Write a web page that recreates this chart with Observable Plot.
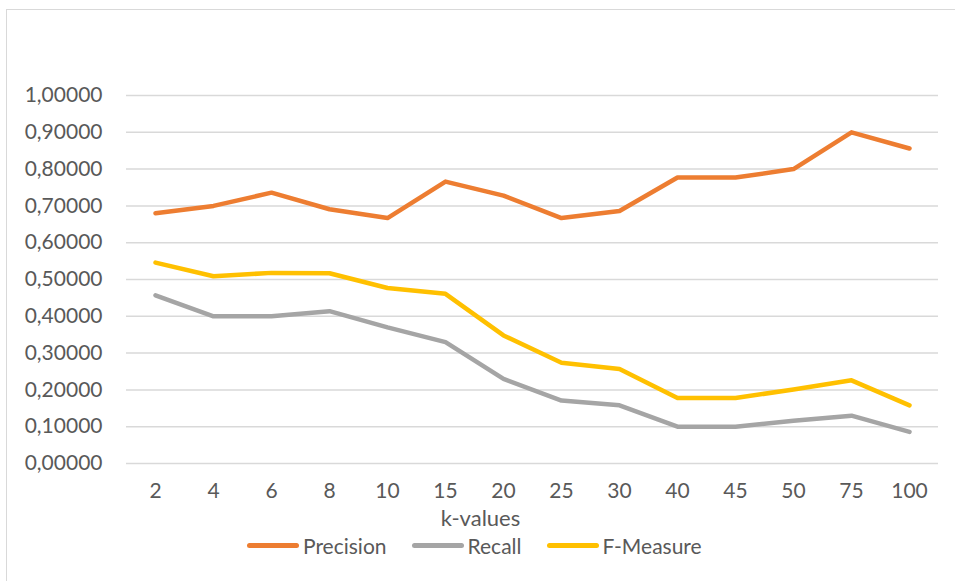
<!DOCTYPE html>
<html>
<head>
<meta charset="utf-8">
<script src="https://cdn.jsdelivr.net/npm/d3@7"></script>
<script src="https://cdn.jsdelivr.net/npm/@observablehq/plot@0.6"></script>
<style>
  html, body { margin: 0; padding: 0; background: #fff; }
  body { width: 955px; height: 581px; position: relative; overflow: hidden; font-family: Lato, "Noto Sans", sans-serif; }
  #frame { position: absolute; left: 6px; top: 9px; width: 960px; height: 600px; border: 1.5px solid #d9d9d9; box-sizing: border-box; }
  #chart { position: absolute; left: 0; top: 0; }
  #legend { position: absolute; left: 247px; top: 533px; display: flex; align-items: center; gap: 25px; font-size: 21px; color: #595959; }
  .item { display: flex; align-items: center; gap: 4px; }
  .swatch { width: 52px; height: 5px; border-radius: 3px; }
</style>
</head>
<body>
<div id="frame"></div>
<div id="chart"></div>
<div id="legend"></div>
<script>
// k values on the category axis
const kValues = ["2", "4", "6", "8", "10", "15", "20", "25", "30", "40", "45", "50", "75", "100"];

// scores per k
const precision = [0.680, 0.700, 0.736, 0.691, 0.667, 0.766, 0.728, 0.667, 0.686, 0.777, 0.777, 0.800, 0.900, 0.856];
const recall    = [0.457, 0.400, 0.400, 0.414, 0.370, 0.330, 0.230, 0.171, 0.158, 0.100, 0.100, 0.116, 0.130, 0.086];
const fMeasure  = [0.546, 0.509, 0.518, 0.517, 0.477, 0.461, 0.348, 0.274, 0.257, 0.178, 0.178, 0.201, 0.226, 0.158];

const yTicks = [0, 0.1, 0.2, 0.3, 0.4, 0.5, 0.6, 0.7, 0.8, 0.9, 1.0];

const seriesNames = ["Precision", "Recall", "F-Measure"];
const seriesColors = ["#ED7D31", "#A5A5A5", "#FFC000"];
const seriesValues = [precision, recall, fMeasure];

const rows = seriesNames.flatMap((name, i) =>
  kValues.map((k, j) => ({series: name, k, value: seriesValues[i][j]}))
);

const fmt = d => d.toFixed(5).replace(".", ",");

const chart = Plot.plot({
  width: 955,
  height: 530,
  marginLeft: 126,
  marginRight: 17,
  marginTop: 95,
  marginBottom: 67,
  style: {fontFamily: "Lato, 'Noto Sans', sans-serif", fontSize: "21px", color: "#595959", background: "transparent"},
  x: {type: "point", domain: kValues, padding: 0.5, label: null},
  y: {domain: [0, 1], label: null},
  color: {domain: seriesNames, range: seriesColors},
  marks: [
    Plot.gridY(yTicks, {stroke: "#d9d9d9", strokeOpacity: 1, strokeWidth: 1.5}),
    Plot.axisY(yTicks, {tickSize: 0, tickPadding: 24, tickFormat: fmt, fill: "#595959", fontSize: 21}),
    Plot.axisX({tickSize: 0, tickPadding: 20, fill: "#595959", fontSize: 21, label: null}),
    Plot.text(["k-values"], {frameAnchor: "bottom", lineAnchor: "middle", dx: -52, dy: 55, fill: "#595959", fontSize: 22}),
    Plot.line(rows, {
      x: "k", y: "value", z: "series", stroke: "series",
      strokeWidth: 4.5, strokeLinecap: "round", strokeLinejoin: "round"
    })
  ]
});
document.getElementById("chart").append(chart);

const legend = document.getElementById("legend");
seriesNames.forEach((name, i) => {
  const item = document.createElement("div");
  item.className = "item";
  const sw = document.createElement("div");
  sw.className = "swatch";
  sw.style.background = seriesColors[i];
  const label = document.createElement("span");
  label.textContent = name;
  item.append(sw, label);
  legend.append(item);
});
</script>
</body>
</html>
